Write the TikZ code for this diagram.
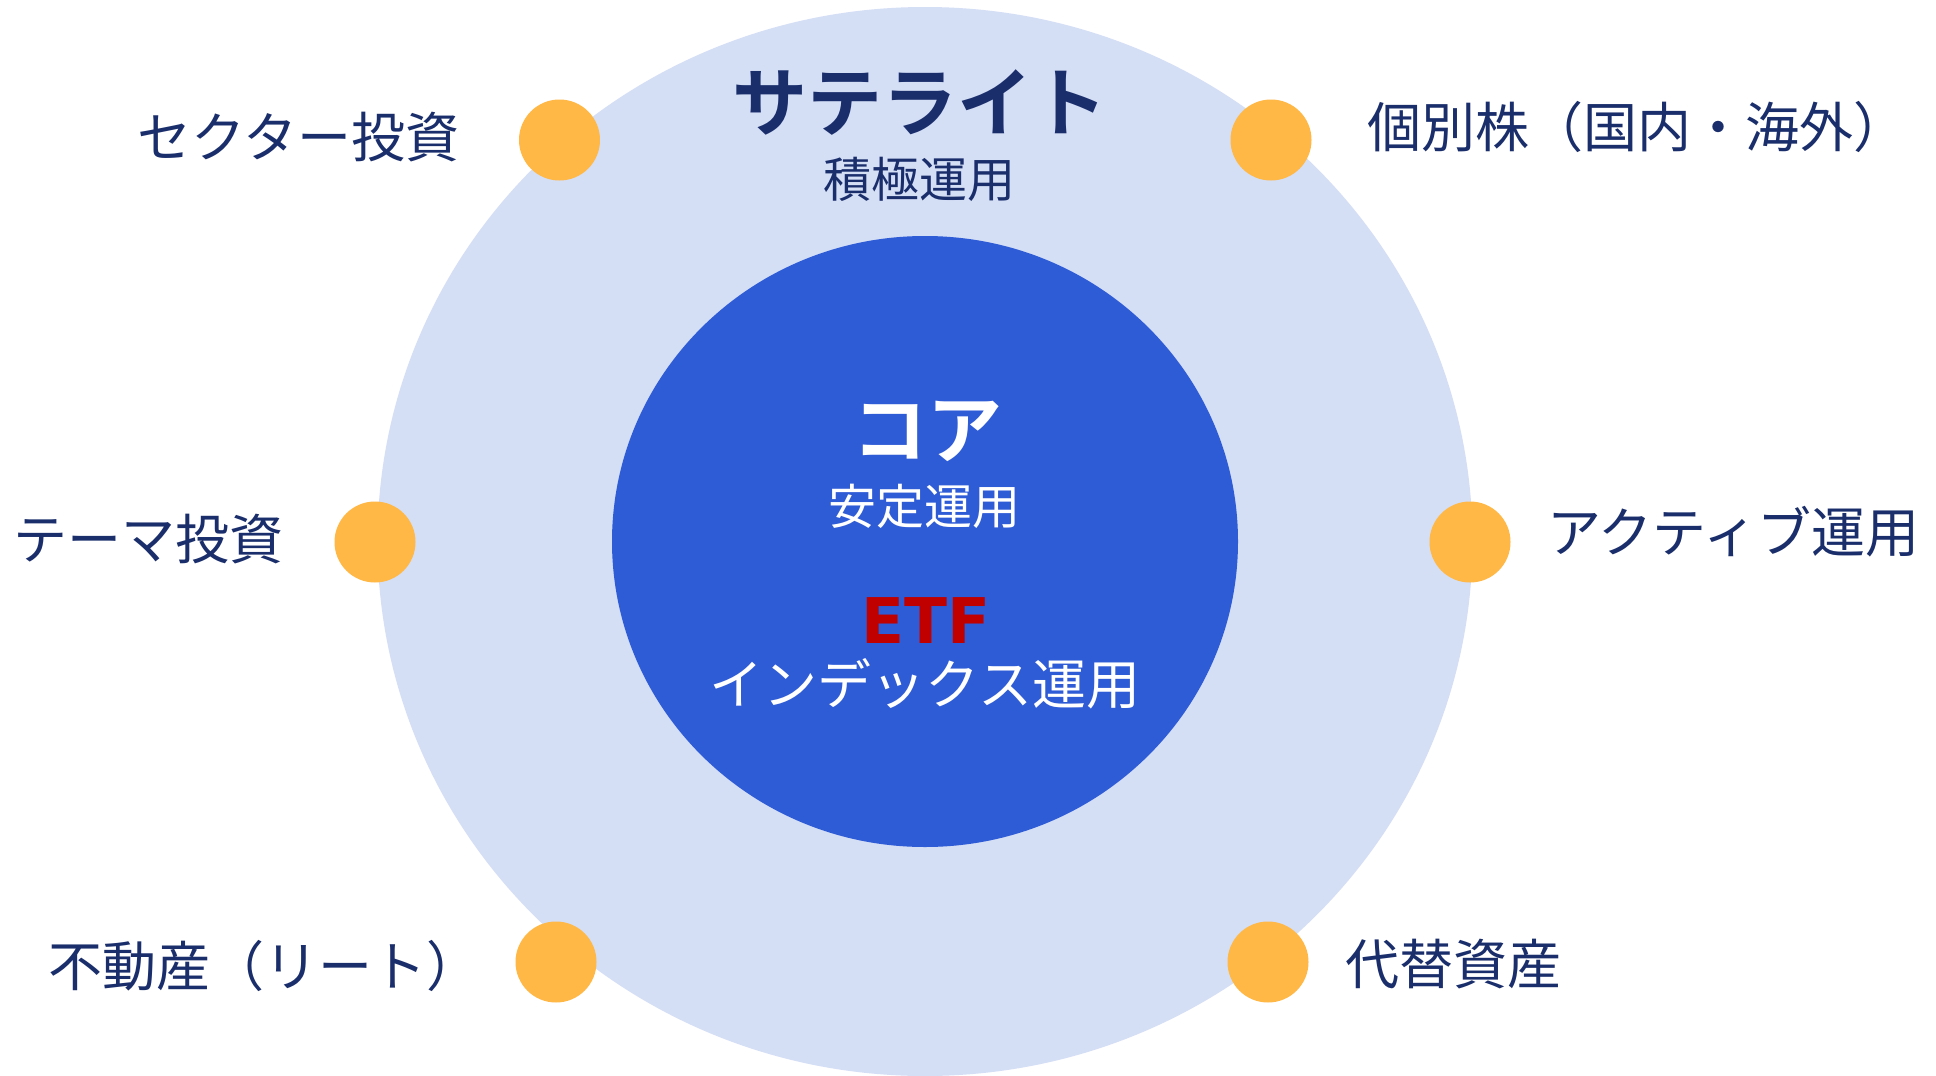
\documentclass[tikz,border=0pt]{standalone}
\usepackage{fontspec}
\usetikzlibrary{shapes.geometric}
\newfontfamily\jpfont{Noto Sans CJK JP}
\newfontfamily\jpbold{Noto Sans CJK JP Bold}
\newfontfamily\etffont{DejaVu Sans}
\definecolor{outerc}{HTML}{D4DEF5}
\definecolor{innerc}{HTML}{2E5BD6}
\definecolor{dotc}{HTML}{FFB845}
\definecolor{navy}{HTML}{1A2E6C}
\definecolor{etfred}{HTML}{C00000}
\tikzset{
  dotnode/.style={circle, fill=dotc, minimum size=81pt, inner sep=0pt},
  label/.style={inner sep=0pt, text=navy, font=\jpfont\fontsize{54pt}{62pt}\selectfont},
  ttl/.style={inner sep=0pt, font=\jpbold\fontsize{75pt}{85pt}\selectfont},
  sub/.style={inner sep=0pt, font=\jpfont\fontsize{48pt}{56pt}\selectfont},
}
\begin{document}
\begin{tikzpicture}[x=1pt,y=-1pt]
\useasboundingbox (0,0) rectangle (1936,1076);
\clip (0,0) rectangle (1936,1076);
\fill[white] (0,0) rectangle (1936,1076);
% circles
\node[ellipse, fill=outerc, minimum width=1095pt, minimum height=1069pt, inner sep=0pt] (outer) at (925,541.5) {};
\node[ellipse, fill=innerc, minimum width=626pt, minimum height=611pt, inner sep=0pt] (inner) at (925,541.5) {};
% titles
\node[ttl, text=navy] (sat) at (920,103) {サテライト};
\node[sub, text=navy] (satsub) at (919,179) {積極運用};
\node[ttl, text=white] (core) at (927,431) {コア};
\node[sub, text=white] (coresub) at (924,506) {安定運用};
\node[inner sep=0pt, text=etfred, font=\etffont\bfseries\fontsize{63pt}{70pt}\selectfont] (etf) at (926,620.5) {ETF};
\node[inner sep=0pt, text=white, font=\jpfont\fontsize{54pt}{62pt}\selectfont] (idx) at (925,684) {インデックス運用};
% dots
\node[dotnode] (d1) at (559.5,140) {};
\node[dotnode] (d2) at (1271,140) {};
\node[dotnode] (d3) at (375,542) {};
\node[dotnode] (d4) at (1470,542) {};
\node[dotnode] (d5) at (556,962) {};
\node[dotnode] (d6) at (1268,962) {};
% labels
\node[label, anchor=west] (l1) at (137,137) {セクター投資};
\node[label, anchor=west] (l2) at (1367,127) {個別株（国内・海外）};
\node[label, anchor=west] (l3) at (13,539) {テーマ投資};
\node[label, anchor=west] (l4) at (1547,532) {アクティブ運用};
\node[label, anchor=west] (l5) at (48,966) {不動産（リート）};
\node[label, anchor=west] (l6) at (1345,964) {代替資産};
\end{tikzpicture}
\end{document}
